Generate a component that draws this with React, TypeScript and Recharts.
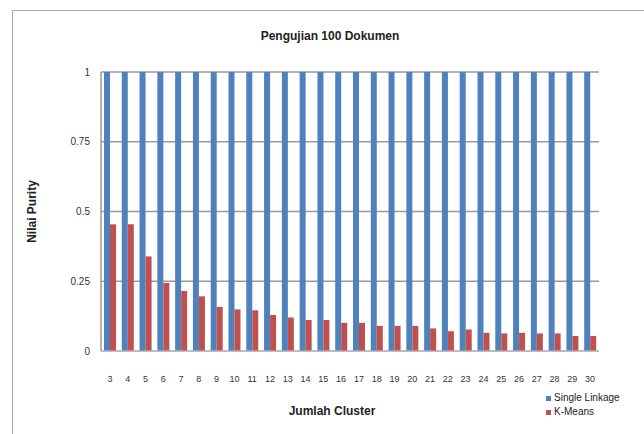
import React from "react";
import { BarChart, Bar, XAxis, YAxis, CartesianGrid } from "recharts";

const clusters = [
    "3", "4", "5", "6", "7", "8", "9", "10", "11", "12", "13", "14", "15", "16",
    "17", "18", "19", "20", "21", "22", "23", "24", "25", "26", "27", "28", "29", "30",
];
const singleLinkage = [
    1, 1, 1, 1, 1, 1, 1, 1, 1, 1, 1, 1, 1, 1,
    1, 1, 1, 1, 1, 1, 1, 1, 1, 1, 1, 1, 1, 1,
];
const kMeans = [
    0.454, 0.454, 0.339, 0.244, 0.215, 0.196, 0.158, 0.149, 0.146, 0.129, 0.12, 0.111, 0.111, 0.101,
    0.101, 0.09, 0.09, 0.09, 0.081, 0.071, 0.077, 0.065, 0.063, 0.065, 0.063, 0.063, 0.054, 0.054,
];
const yTicks = [0, 0.25, 0.5, 0.75, 1];
const seriesNames = ["Single Linkage", "K-Means"];

const BLUE = "#4f81bd";
const RED = "#c0504d";
const FONT = "'Liberation Sans Narrow', 'Liberation Sans', sans-serif";

const data = clusters.map((c, i) => ({
    cluster: c,
    single: singleLinkage[i],
    kmeans: kMeans[i],
}));

const LegendBox = () => (
    <div
        style={{
            position: "absolute",
            left: 546,
            top: 391,
            fontFamily: FONT,
            fontSize: 10,
            color: "#222",
            lineHeight: "14px",
        }}
    >
        {seriesNames.map((name, i) => (
            <div key={name} style={{ display: "flex", alignItems: "center" }}>
                <span style={{ width: 5, height: 5, background: i === 0 ? BLUE : RED, marginRight: 3 }} />
                {name}
            </div>
        ))}
    </div>
);

export default function App() {
    return (
        <div style={{ position: "absolute", left: 0, top: 0, width: 644, height: 434, background: "#fff", overflow: "hidden" }}>
            <div style={{ position: "absolute", left: 12, top: 10, width: 660, height: 460, border: "1.5px solid #aaa" }} />
            <div
                style={{
                    position: "absolute",
                    left: 0,
                    width: 660,
                    top: 29,
                    textAlign: "center",
                    fontFamily: FONT,
                    fontSize: 12,
                    fontWeight: 700,
                    color: "#222",
                }}
            >
                Pengujian 100 Dokumen
            </div>
            <div style={{ position: "absolute", left: 0, top: 0 }}>
                <BarChart
                    width={644}
                    height={434}
                    data={data}
                    margin={{ top: 72, right: 45, left: 0, bottom: 0 }}
                    barGap={0}
                    barSize={6}
                >
                    <CartesianGrid vertical={false} stroke="#9a9a9a" strokeWidth={1.5} />
                    <XAxis
                        dataKey="cluster"
                        height={83}
                        interval={0}
                        tickSize={0}
                        tickMargin={25}
                        axisLine={{ stroke: "#c8c8c8" }}
                        tick={{ fill: "#333", fontSize: 9, fontFamily: FONT }}
                        label={{
                            value: "Jumlah Cluster",
                            position: "insideBottom",
                            offset: 19,
                            dx: -18,
                            style: { fill: "#222", fontSize: 12, fontWeight: 700, fontFamily: FONT },
                        }}
                    />
                    <YAxis
                        width={101}
                        domain={[0, 1]}
                        ticks={yTicks}
                        tickSize={0}
                        tickMargin={11}
                        axisLine={{ stroke: "#9a9a9a", strokeWidth: 1.5 }}
                        tick={{ fill: "#333", fontSize: 10, fontFamily: FONT }}
                        label={{
                            value: "Nilai  Purity",
                            angle: -90,
                            position: "insideLeft",
                            offset: 32,
                            style: { fill: "#222", fontSize: 12, fontWeight: 700, fontFamily: FONT, textAnchor: "middle" },
                        }}
                    />
                    <Bar dataKey="single" name={seriesNames[0]} fill={BLUE} isAnimationActive={false} />
                    <Bar dataKey="kmeans" name={seriesNames[1]} fill={RED} isAnimationActive={false} />
                </BarChart>
            </div>
            <LegendBox />
        </div>
    );
}
